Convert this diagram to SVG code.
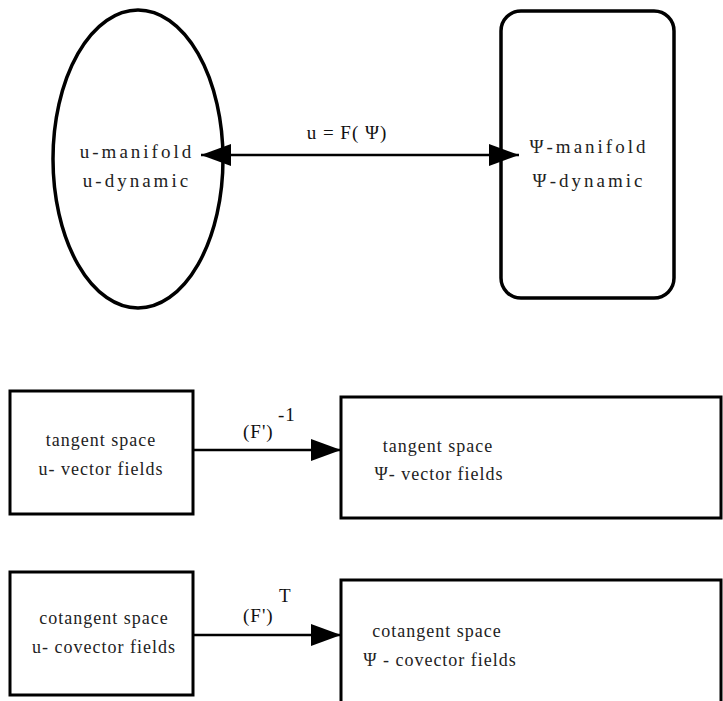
<svg xmlns="http://www.w3.org/2000/svg" width="723" height="701" viewBox="0 0 723 701">
<defs>
<style>
.n{fill:#fff;stroke:#000;stroke-width:3.5}
.b{fill:#fff;stroke:#000;stroke-width:3}
.t{font-family:"Liberation Serif","DejaVu Serif",serif;font-size:18px;fill:#222;letter-spacing:1px;text-anchor:middle}
.tt{font-family:"Liberation Serif","DejaVu Serif",serif;font-size:19px;fill:#222;letter-spacing:3px;text-anchor:middle}
.l{font-family:"Liberation Serif","DejaVu Serif",serif;font-size:19px;fill:#111;letter-spacing:1px}
.c{stroke:#000;stroke-width:2.5;fill:none}
</style>
<marker id="ah2" markerWidth="30" markerHeight="22" refX="30" refY="11" orient="auto-start-reverse" markerUnits="userSpaceOnUse" viewBox="0 0 30 22">
<path d="M0,0 L30,11 L0,22 Z" fill="#000"/>
</marker>
</defs>
<g id="u-manifold">
<ellipse class="n" cx="138" cy="159" rx="85" ry="149"/>
<text class="tt" x="137" y="158">u-manifold</text>
<text class="tt" x="137" y="187">u-dynamic</text>
</g>
<g id="psi-manifold">
<rect class="n" x="501" y="11" width="173" height="287" rx="20" ry="20"/>
<text class="tt" x="589" y="153">Ψ-manifold</text>
<text class="tt" x="589" y="187">Ψ-dynamic</text>
</g>
<g id="tangent-u">
<rect class="b" x="10" y="391" width="183" height="123"/>
<text class="t" x="101" y="446">tangent space</text>
<text class="t" x="101" y="475">u- vector fields</text>
</g>
<g id="tangent-psi">
<rect class="b" x="341" y="397" width="380" height="121"/>
<text class="t" x="438" y="452">tangent space</text>
<text class="t" x="439" y="480">Ψ- vector fields</text>
</g>
<g id="cotangent-u">
<rect class="b" x="10" y="572" width="183" height="123"/>
<text class="t" x="104" y="624">cotangent space</text>
<text class="t" x="104" y="653">u- covector fields</text>
</g>
<g id="cotangent-psi">
<rect class="b" x="341" y="580" width="380" height="125"/>
<text class="t" x="437" y="637">cotangent space</text>
<text class="t" x="440" y="666">Ψ - covector fields</text>
</g>
<g id="connectors">
<line class="c" x1="201" y1="155" x2="519" y2="155" marker-start="url(#ah2)" marker-end="url(#ah2)"/>
<text class="l" x="347" y="139" text-anchor="middle" letter-spacing="4">u = F( Ψ)</text>
<line class="c" x1="193" y1="450" x2="341" y2="450" marker-end="url(#ah2)"/>
<text class="l" x="243" y="438">(F')</text>
<text class="l" x="278" y="421" font-size="14">-1</text>
<line class="c" x1="193" y1="635" x2="341" y2="635" marker-end="url(#ah2)"/>
<text class="l" x="243" y="622">(F')</text>
<text class="l" x="279" y="602" font-size="14">T</text>
</g>
</svg>
